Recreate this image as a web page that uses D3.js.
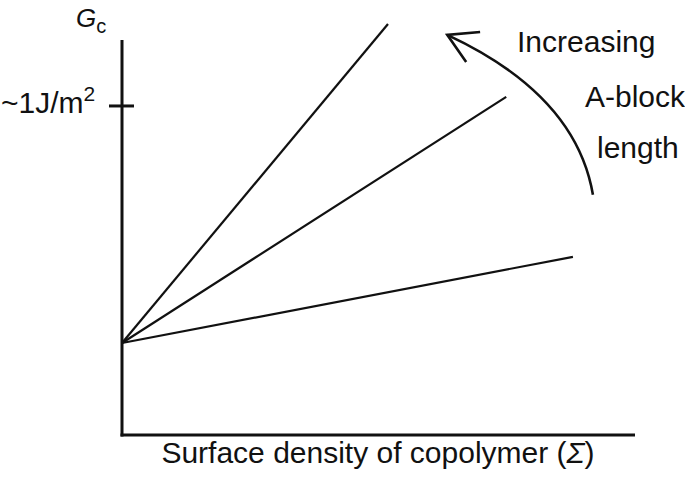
<!DOCTYPE html>
<html>
<head>
<meta charset="utf-8">
<script src="https://cdn.jsdelivr.net/npm/d3@7"></script>
<style>
  html, body { margin: 0; padding: 0; background: #fff; }
  text { font-family: "Liberation Sans", Arial, Helvetica, sans-serif; fill: #111; }
</style>
</head>
<body>
<svg id="chart" width="685" height="481"></svg>
<script>
// ---- data (schematic units) ----
const seriesNames = ["short A-block", "medium A-block", "long A-block"];
const gcIntercept = 23.3;               // G_c at Σ = 0
const endSigma = [87.9, 74.9, 51.85];   // Σ at end of each line
const endGc = [45.1, 85.6, 104.05];     // G_c at end of each line
const yTickValues = [83.3];
const yTickLabels = ["~1J/m"];
const arrowSigma = [91.8, 88.5, 63.4];  // start, control, tip
const arrowGc = [60.8, 86.1, 101.3];
const annotationLines = ["Increasing", "A-block", "length"];

// ---- layout ----
const svg = d3.select("#chart");
const x = d3.scaleLinear().domain([0, 100]).range([122, 635]);
const y = d3.scaleLinear().domain([0, 100]).range([435, 40]);

// lines
const lines = seriesNames.map((n, i) => [[0, gcIntercept], [endSigma[i], endGc[i]]]);
const lineGen = d3.line().x(d => x(d[0])).y(d => y(d[1]));
svg.selectAll("path.series").data(lines).enter().append("path")
  .attr("class", "series")
  .attr("d", lineGen)
  .attr("fill", "none").attr("stroke", "#111").attr("stroke-width", 2.2);

// axes
svg.append("line").attr("x1", x(0)).attr("x2", x(0)).attr("y1", y(100)).attr("y2", y(0) + 1.5)
  .attr("stroke", "#111").attr("stroke-width", 3);
svg.append("line").attr("x1", x(0) - 1.5).attr("x2", x(100)).attr("y1", y(0)).attr("y2", y(0))
  .attr("stroke", "#111").attr("stroke-width", 3);

// y tick
yTickValues.forEach((v, i) => {
  svg.append("line").attr("x1", x(0) - 13).attr("x2", x(0) + 12).attr("y1", y(v)).attr("y2", y(v))
    .attr("stroke", "#111").attr("stroke-width", 3);
  const t = svg.append("text").attr("x", 1).attr("y", y(v) + 7).attr("font-size", 30);
  t.append("tspan").text(yTickLabels[i]);
  t.append("tspan").attr("font-size", 21).attr("dy", -12).text("2");
});

// y label G_c
const gl = svg.append("text").attr("x", 76).attr("y", 27).attr("font-size", 26);
gl.append("tspan").attr("font-style", "italic").text("G");
gl.append("tspan").attr("font-size", 20).attr("dy", 6).text("c");

// x label
const xl = svg.append("text").attr("x", 378).attr("y", 463).attr("text-anchor", "middle").attr("font-size", 30);
xl.append("tspan").text("Surface density of copolymer (");
xl.append("tspan").attr("font-style", "italic").text("Σ");
xl.append("tspan").text(")");

// curved arrow
const p0 = [x(arrowSigma[0]), y(arrowGc[0])];
const c1 = [x(arrowSigma[1]), y(arrowGc[1])];
const tip = [x(arrowSigma[2]), y(arrowGc[2])];
const ap = d3.path();
ap.moveTo(p0[0], p0[1]);
ap.quadraticCurveTo(c1[0], c1[1], tip[0], tip[1]);
svg.append("path").attr("d", ap.toString()).attr("fill", "none").attr("stroke", "#111").attr("stroke-width", 2.6);
const ang = Math.atan2(c1[1] - tip[1], c1[0] - tip[0]);
const armLen = 33, half = 30 * Math.PI / 180;
const hp = d3.path();
hp.moveTo(tip[0] + armLen * Math.cos(ang - half), tip[1] + armLen * Math.sin(ang - half));
hp.lineTo(tip[0], tip[1]);
hp.lineTo(tip[0] + armLen * Math.cos(ang + half), tip[1] + armLen * Math.sin(ang + half));
svg.append("path").attr("d", hp.toString()).attr("fill", "none").attr("stroke", "#111")
  .attr("stroke-width", 2.6).attr("stroke-linejoin", "miter");

// annotation text
const annX = [517, 585, 597];
const annY = [52, 107, 158];
svg.selectAll("text.ann").data(annotationLines).enter().append("text")
  .attr("class", "ann")
  .attr("x", (d, i) => annX[i]).attr("y", (d, i) => annY[i])
  .attr("font-size", 30).text(d => d);
</script>
</body>
</html>
